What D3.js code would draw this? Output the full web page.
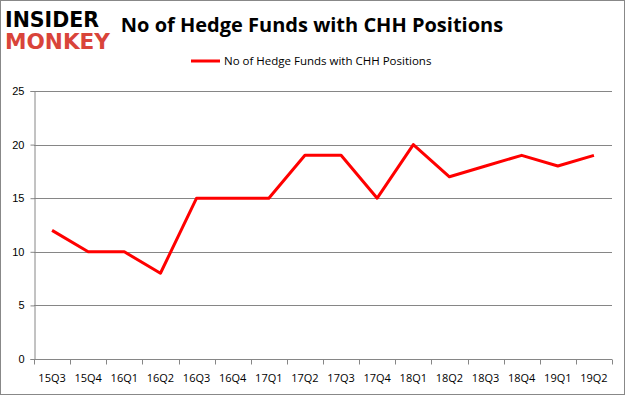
<!DOCTYPE html>
<html>
<head>
<meta charset="utf-8">
<script src="https://cdn.jsdelivr.net/npm/d3@7"></script>
<style>
  body { margin: 0; background: #fff; }
  svg { display: block; font-family: "Open Sans", "DejaVu Sans", sans-serif; }
</style>
</head>
<body>
<div id="chart"></div>
<script>
var quarters = ["15Q3", "15Q4", "16Q1", "16Q2", "16Q3", "16Q4", "17Q1", "17Q2",
  "17Q3", "17Q4", "18Q1", "18Q2", "18Q3", "18Q4", "19Q1", "19Q2"];
var funds = [12, 10, 10, 8, 15, 15, 15, 19, 19, 15, 20, 17, 18, 19, 18, 19];
var yTicks = [0, 5, 10, 15, 20, 25];
var seriesName = "No of Hedge Funds with CHH Positions";

var width = 625, height = 395;
var margin = {left: 34, right: 13, top: 91, bottom: 36};

var svg = d3.select("#chart").append("svg")
  .attr("width", width).attr("height", height);

svg.append("rect")
  .attr("x", 0.5).attr("y", 0.5)
  .attr("width", width - 1).attr("height", height - 1)
  .attr("fill", "#fff").attr("stroke", "#888");

var x = d3.scaleBand().domain(quarters)
  .range([margin.left, width - margin.right]);
var y = d3.scaleLinear().domain([0, 25])
  .range([height - margin.bottom, margin.top]);

// gridlines
svg.append("g").selectAll("line").data(yTicks.slice(1)).enter().append("line")
  .attr("x1", margin.left).attr("x2", width - margin.right)
  .attr("y1", function (d) { return Math.round(y(d)) + 0.5; })
  .attr("y2", function (d) { return Math.round(y(d)) + 0.5; })
  .attr("stroke", "#868686");

var yAxis = svg.append("g")
  .attr("transform", "translate(" + (margin.left + 0.5) + ",0)")
  .call(d3.axisLeft(y).tickValues(yTicks).tickSize(4).tickPadding(6));
yAxis.select(".domain").attr("stroke", "#868686");
yAxis.selectAll(".tick line").attr("stroke", "#868686");
yAxis.selectAll("text").attr("font-size", 11).attr("fill", "#000");

var xAxis = svg.append("g")
  .attr("transform", "translate(0," + (Math.round(y(0)) + 0.5) + ")");
xAxis.append("line")
  .attr("x1", margin.left).attr("x2", width - margin.right)
  .attr("stroke", "#868686");
var edges = quarters.map(function (q) { return x(q); }).concat([width - margin.right]);
xAxis.selectAll(".xt").data(edges).enter().append("line")
  .attr("class", "xt")
  .attr("x1", function (d) { return Math.round(d) + 0.5; })
  .attr("x2", function (d) { return Math.round(d) + 0.5; })
  .attr("y1", 0).attr("y2", 5)
  .attr("stroke", "#868686");
xAxis.selectAll("text").data(quarters).enter().append("text")
  .attr("x", function (d) { return x(d) + x.bandwidth() / 2; })
  .attr("y", 22)
  .attr("text-anchor", "middle")
  .attr("font-size", 11)
  .text(function (d) { return d; });

var line = d3.line()
  .x(function (d, i) { return x(quarters[i]) + x.bandwidth() / 2; })
  .y(function (d) { return y(d); });

svg.append("path").datum(funds)
  .attr("d", line)
  .attr("fill", "none")
  .attr("stroke", "#ff0000")
  .attr("stroke-width", 3)
  .attr("stroke-linejoin", "round");

// title
svg.append("text")
  .attr("x", 312).attr("y", 32)
  .attr("text-anchor", "middle")
  .attr("font-size", 20).attr("font-weight", "bold")
  .text(seriesName);

// legend
svg.append("line")
  .attr("x1", 191).attr("x2", 220).attr("y1", 61).attr("y2", 61)
  .attr("stroke", "#ff0000").attr("stroke-width", 3);
svg.append("text")
  .attr("x", 224).attr("y", 65)
  .attr("font-size", 11.5)
  .text(seriesName);

// logo
svg.append("text")
  .attr("x", 5).attr("y", 27)
  .attr("font-family", "'DejaVu Sans', sans-serif")
  .attr("font-size", 21).attr("font-weight", "bold")
  .attr("textLength", 94).attr("lengthAdjust", "spacingAndGlyphs")
  .text("INSIDER");
svg.append("text")
  .attr("x", 5).attr("y", 49)
  .attr("font-family", "'DejaVu Sans', sans-serif")
  .attr("font-size", 21).attr("font-weight", "bold")
  .attr("fill", "#d9443a")
  .attr("textLength", 105).attr("lengthAdjust", "spacingAndGlyphs")
  .text("MONKEY");
</script>
</body>
</html>
